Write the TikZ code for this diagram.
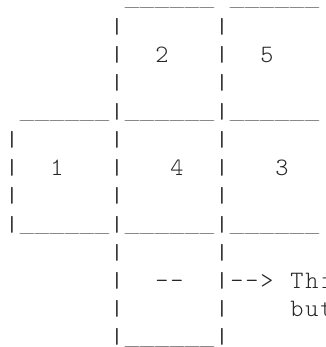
\documentclass[tikz,border=0pt]{standalone}
\usepackage{graphicx}
\usepackage{fontspec}
\newfontfamily\asciifont{Latin Modern Mono Light}
\ExplSyntaxOn
\cs_new_protected:Npn \gr_bar:
  { \raisebox{-1.5bp}{ \resizebox*{1.2\width}{17bp}{ \raisebox{\depth}{|} } } }
\cs_new_protected:Npn \gr_under:
  { \raisebox{-3.1bp}{ \resizebox*{19.3bp}{1.8bp}{ \raisebox{\depth}{\_} } } }
\cs_new_protected:Npn \gr_cell:n #1
  {
    \makebox[15bp][c]{ \str_case:nnF {#1} { {.} {} {U} {\gr_under:} {|} {\gr_bar:} } {#1} }
  }
\NewDocumentCommand \gridrow { m } { \tl_map_inline:nn {#1} { \gr_cell:n {##1} } }
\ExplSyntaxOff
\begin{document}
\begin{tikzpicture}[x=1bp,y=-1bp,
  row/.style={anchor=base west, inner sep=0pt, outer sep=0pt, text=black!85,
    font=\asciifont\fontsize{25bp}{28.25bp}\selectfont}]
\useasboundingbox (0,0) rectangle (326,347);
\node[row] (l1)  at (4.5,5.5)    {\gridrow{........UUUUUU.UUUUUU}};
\node[row] (l2)  at (4.5,33.75)  {\gridrow{.......|......|}};
\node[row] (l3)  at (4.5,62)     {\gridrow{.......|..2...|..5}};
\node[row] (l4)  at (4.5,90.25)  {\gridrow{.......|......|}};
\node[row] (l5)  at (4.5,118.5)  {\gridrow{.UUUUUU|UUUUUU|UUUUUU}};
\node[row] (l6)  at (4.5,146.75) {\gridrow{|......|......|}};
\node[row] (l7)  at (4.5,175)    {\gridrow{|..1...|...4..|...3}};
\node[row] (l8)  at (4.5,203.25) {\gridrow{|......|......|}};
\node[row] (l9)  at (4.5,231.5)  {\gridrow{|UUUUUU|UUUUUU|UUUUUU}};
\node[row] (l10) at (4.5,259.75) {\gridrow{.......|......|}};
\node[row] (l11) at (4.5,288)    {\gridrow{.......|..--..|-->.Thi}};
\node[row] (l12) at (4.5,316.25) {\gridrow{.......|......|....but}};
\node[row] (l13) at (4.5,344.3)  {\gridrow{.......|UUUUUU|}};
\end{tikzpicture}
\end{document}
